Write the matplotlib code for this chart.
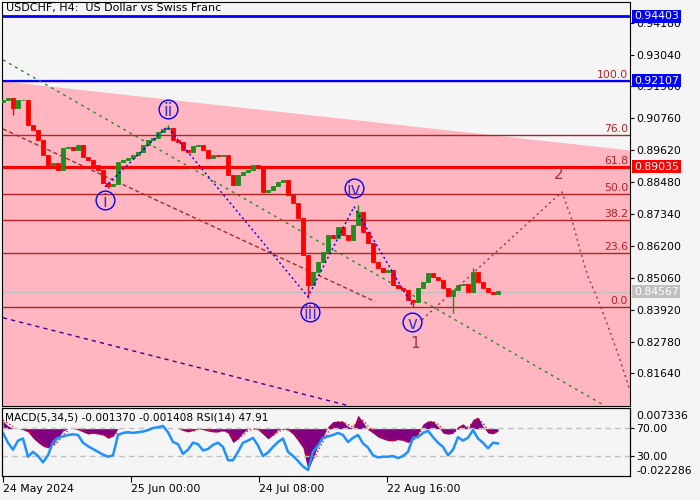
import numpy as np
import matplotlib.pyplot as plt

BG = '#F5F5F5'
PINK = '#FFB6C1'
FS = 7.8

# H4 closes, one value every 5 bars (bar 0 = 24 May 2024)
closes = [0.9142, 0.9149, 0.9113, 0.9142, 0.9142, 0.9053, 0.9035, 0.8999, 0.8946, 0.8910,
          0.8917, 0.8892, 0.8971, 0.8974, 0.8963, 0.8981, 0.8938, 0.8928, 0.8910, 0.8892,
          0.8846, 0.8835, 0.8842, 0.8921, 0.8928, 0.8935, 0.8946, 0.8956, 0.8981, 0.8999,
          0.9006, 0.9028, 0.9038, 0.9042, 0.8999, 0.8992, 0.8963, 0.8956, 0.8978, 0.8981,
          0.8963, 0.8935, 0.8946, 0.8942, 0.8946, 0.8874, 0.8838, 0.8874, 0.8885, 0.8892,
          0.8910, 0.8899, 0.8813, 0.8821, 0.8835, 0.8849, 0.8856, 0.8803, 0.8774, 0.8721,
          0.8588, 0.8481, 0.8528, 0.8563, 0.8599, 0.8660, 0.8649, 0.8688, 0.8660, 0.8642,
          0.8696, 0.8742, 0.8671, 0.8631, 0.8563, 0.8542, 0.8528, 0.8535, 0.8481, 0.8471,
          0.8463, 0.8428, 0.8421, 0.8471, 0.8492, 0.8524, 0.8510, 0.8499, 0.8471, 0.8442,
          0.8463, 0.8481, 0.8485, 0.8456, 0.8528, 0.8492, 0.8471, 0.8456, 0.8449, 0.8457]
first_open = 0.9135
high_ext = {33: 0.9053, 71: 0.8767, 94: 0.8542}
low_ext = {2: 0.9088, 21: 0.8828, 61: 0.8434, 82: 0.8403, 90: 0.8381}

rsi = [63, 49, 39, 52, 55, 29, 36, 30, 21, 31,
       50, 56, 58, 60, 61, 60, 49, 44, 40, 36,
       32, 29, 31, 60, 63, 64, 63, 64, 65, 67,
       70, 71, 73, 64, 50, 47, 33, 39, 49, 47,
       38, 40, 46, 49, 43, 24, 24, 36, 49, 52,
       56, 45, 30, 35, 43, 50, 55, 36, 30, 23,
       15, 10, 36, 45, 56, 58, 60, 63, 60, 50,
       56, 60, 48, 42, 31, 28, 29, 29, 30, 27,
       30, 36, 56, 57, 63, 66, 57, 49, 43, 31,
       39, 57, 52, 56, 67, 55, 49, 41, 49, 47.91]

macd = [0.0040, 0.0015, 0.0, 0.0, -0.0006, -0.0018, -0.0051, -0.0075, -0.0095, -0.0104,
        -0.0085, -0.0050, -0.0012, 0.0, 0.0, -0.0006, -0.0018, -0.0029, -0.0024, -0.0029,
        -0.0034, -0.0052, -0.0040, 0.0, 0.0, 0.0, 0.0, 0.0, 0.0, 0.0,
        0.0, 0.0, 0.0, 0.0, 0.0, 0.0, -0.0010, -0.0018, -0.0010, 0.0,
        -0.0005, -0.0013, -0.0018, -0.0018, -0.0010, -0.0024, -0.0075, -0.0055, -0.0022, 0.0,
        0.0, -0.0006, -0.0030, -0.0055, -0.0034, -0.0006, 0.0, -0.0008, -0.0030, -0.0065,
        -0.0104, -0.0223, -0.0160, -0.0090, -0.0045, 0.0012, 0.0038, 0.0041, 0.0038, 0.0012,
        0.0, 0.0073, 0.0035, -0.0006, -0.0024, -0.0045, -0.0056, -0.0065, -0.0066, -0.0058,
        -0.0064, -0.0075, -0.0058, -0.0030, 0.0025, 0.0042, 0.0040, 0.0012, -0.0024, -0.0030,
        -0.0024, 0.0012, 0.0026, 0.0, 0.0050, 0.0062, 0.0012, -0.0024, -0.0028, -0.0014]

signal = [0.0045, 0.0030, 0.0010, 0.0, -0.0003, -0.0010, -0.0030, -0.0058, -0.0080, -0.0095,
          -0.0092, -0.0070, -0.0035, -0.0010, 0.0, -0.0002, -0.0010, -0.0022, -0.0026, -0.0027,
          -0.0031, -0.0043, -0.0043, -0.0020, 0.0, 0.0, 0.0, 0.0, 0.0, 0.0,
          0.0, 0.0, 0.0, 0.0, 0.0, 0.0, -0.0005, -0.0013, -0.0013, -0.0005,
          -0.0004, -0.0009, -0.0015, -0.0017, -0.0013, -0.0018, -0.0050, -0.0055, -0.0035, -0.0012,
          -0.0002, -0.0004, -0.0018, -0.0040, -0.0038, -0.0018, -0.0005, -0.0006, -0.0020, -0.0045,
          -0.0080, -0.0160, -0.0165, -0.0120, -0.0070, -0.0020, 0.0020, 0.0035, 0.0038, 0.0022,
          0.0008, 0.0045, 0.0045, 0.0015, -0.0012, -0.0032, -0.0048, -0.0060, -0.0064, -0.0060,
          -0.0062, -0.0070, -0.0064, -0.0042, 0.0005, 0.0032, 0.0040, 0.0024, -0.0008, -0.0026,
          -0.0026, -0.0004, 0.0018, 0.0008, 0.0032, 0.0055, 0.0030, -0.0008, -0.0022, -0.0014]

date_bars = [0, 128, 256, 384]
date_labels = ['24 May 2024', '25 Jun 00:00', '24 Jul 08:00', '22 Aug 16:00']
price_ticks = [0.8164, 0.8278, 0.8392, 0.8506, 0.8620, 0.8734, 0.8848,
               0.8962, 0.9076, 0.9190, 0.9304, 0.9418]

fib_lo, fib_hi = 0.8402, 0.92107
fib_levels = [0.0, 23.6, 38.2, 50.0, 61.8, 76.0, 100.0]

# Elliott wave marks
wave_labels = ['i', 'ii', 'iii', 'iv', 'v']
wave_label_bars = [102, 165, 307, 351, 409]
wave_label_prices = [0.8785, 0.9110, 0.8385, 0.8826, 0.8349]
wave_bars = [102, 164, 305, 351, 410]
wave_prices = [0.8831, 0.9046, 0.8438, 0.8760, 0.8403]
proj_bars = [419, 559, 569, 577, 585, 597, 607, 617, 626]
proj_prices = [0.8356, 0.8813, 0.8713, 0.8606, 0.8510, 0.8410, 0.8313, 0.8213, 0.8113]
count_labels = ['1', '2']
count_bars = [412, 556]
count_prices = [0.8272, 0.8874]

green_line = ([0, 600], [0.9285, 0.8052])
brown_line = ([0, 372], [0.9038, 0.8421])
purple_line = ([0, 345], [0.8363, 0.8049])
pink_top = ([-1, 627], [0.9210, 0.8963])

price_marks = [(0.94403, '#0000FF'), (0.92107, '#0000FF'),
               (0.89035, '#FF0000'), (0.84567, '#C0C0C0')]

fig = plt.figure(figsize=(7, 5), dpi=100, facecolor=BG)
ax = fig.add_axes([2 / 700, 94 / 500, 628 / 700, 404 / 500], facecolor=BG)
sub = fig.add_axes([2 / 700, 24 / 500, 628 / 700, 68 / 500], facecolor=BG)

ax.set_xlim(-1, 627)
ax.set_ylim(0.80474, 0.9492)
ax.fill_between(pink_top[0], pink_top[1], 0.80, color=PINK, lw=0, zorder=0)

# levels
for r in fib_levels:
    p = fib_lo + (fib_hi - fib_lo) * r / 100
    ax.axhline(p, color='#B22222', lw=1, zorder=1)
    ax.text(0.997, p + 0.0004, f'{r:.1f}', transform=ax.get_yaxis_transform(),
            ha='right', va='bottom', color='#B22222', fontsize=FS, zorder=6)
ax.axhline(0.84567, color='#C0C0C0', lw=1, zorder=1)
ax.axhline(0.94403, color='#0000FF', lw=2, zorder=2)
ax.axhline(0.92107, color='#0000FF', lw=1.6, zorder=2)
ax.axhline(0.89035, color='#FF0000', lw=2.2, zorder=2)

ax.plot(*green_line, color='#228B22', lw=1, ls=(0, (2, 3)), zorder=3)
ax.plot(*brown_line, color='#A52A2A', lw=1, ls=(0, (3, 2)), zorder=3)
ax.plot(*purple_line, color='#400090', lw=1, ls=(0, (3, 3)), zorder=3)

# candles
bars = np.arange(len(closes)) * 5
opens = [first_open] + closes[:-1]
for k, (b, o, c) in enumerate(zip(bars, opens, closes)):
    col = '#1E8C1E' if c >= o else '#FF0000'
    hi = high_ext.get(k, max(o, c))
    lo = low_ext.get(k, min(o, c))
    ax.vlines(b, lo, hi, color=col, lw=1, zorder=4)
    ax.bar(b, abs(c - o), bottom=min(o, c), width=3.2, color=col,
           edgecolor=col, lw=0.6, zorder=4)

ax.plot(wave_bars, wave_prices, color='#0000FF', lw=1, ls=(0, (1.5, 2)), zorder=5)
ax.plot(proj_bars, proj_prices, color='#A03040', lw=1, ls=(0, (1.5, 2.5)), zorder=5)
ax.plot(wave_label_bars, wave_label_prices, 'o', ms=13.5, mfc='none',
        mec='#0000FF', mew=1, zorder=6)
for t, b, p in zip(wave_labels, wave_label_bars, wave_label_prices):
    ax.text(b, p, t, ha='center', va='center_baseline', color='#3030E0',
            fontsize=12, zorder=7)
for t, b, p in zip(count_labels, count_bars, count_prices):
    ax.text(b, p, t, ha='center', va='center', color='#B03040', fontsize=11, zorder=7)

ax.text(0.006, 0.997, 'USDCHF, H4:  US Dollar vs Swiss Franc', transform=ax.transAxes,
        ha='left', va='top', fontsize=8, color='black', zorder=1)

ax.set_xticks([])
ax.yaxis.tick_right()
ax.set_yticks(price_ticks)
ax.set_yticklabels([f'{v:.5f}' for v in price_ticks])
ax.tick_params(axis='y', length=3, pad=1.5, labelsize=FS, direction='out')
for val, col in price_marks:
    ax.text(1.0065, val, f'{val:.5f}', transform=ax.get_yaxis_transform(),
            ha='left', va='center', color='white', fontsize=FS, zorder=10,
            clip_on=False, bbox=dict(boxstyle='square,pad=0.15', fc=col, ec='none'))

# MACD + RSI window
sub.set_xlim(-1, 627)
sub.set_ylim(-0.025517, 0.011106)
macd_arr = np.array(macd)
sig_arr = np.array(signal, dtype=float)
sig_arr[(sig_arr == 0) & (macd_arr == 0)] = np.nan
sub.fill_between(bars, 0, macd_arr, color='#800080', lw=0)
sub.plot(bars, sig_arr, color='#FF0000', lw=1, ls=':')
sub.set_xticks(date_bars)
sub.set_xticklabels(date_labels)
sub.tick_params(axis='x', length=4, pad=2, labelsize=FS)
for lbl in sub.get_xticklabels():
    lbl.set_ha('left')

r_ax = sub.twinx()
r_ax.set_ylim(1.43, 98.6)
r_ax.axhline(70, color='#C0C0C0', lw=1, ls=(0, (4, 3)))
r_ax.axhline(30, color='#C0C0C0', lw=1, ls=(0, (4, 3)))
r_ax.plot(bars, rsi, color='#1E90FF', lw=1.8)
r_ax.set_yticks([70, 30])
r_ax.set_yticklabels(['70.00', '30.00'])
r_ax.tick_params(axis='y', length=3, pad=1.5, labelsize=FS)
r_ax.text(0.004, 0.93, 'MACD(5,34,5) -0.001370 -0.001408 RSI(14) 47.91',
          transform=r_ax.transAxes, ha='left', va='top', fontsize=7.6)

# MACD range labels on the right as well
sub.yaxis.tick_right()
sub.set_yticks([0.007336, -0.022286])
sub.set_yticklabels(['0.007336', '-0.022286'])
sub.tick_params(axis='y', length=0, pad=4.5, labelsize=FS)

fig.savefig('out.png', dpi=100, facecolor=BG)
